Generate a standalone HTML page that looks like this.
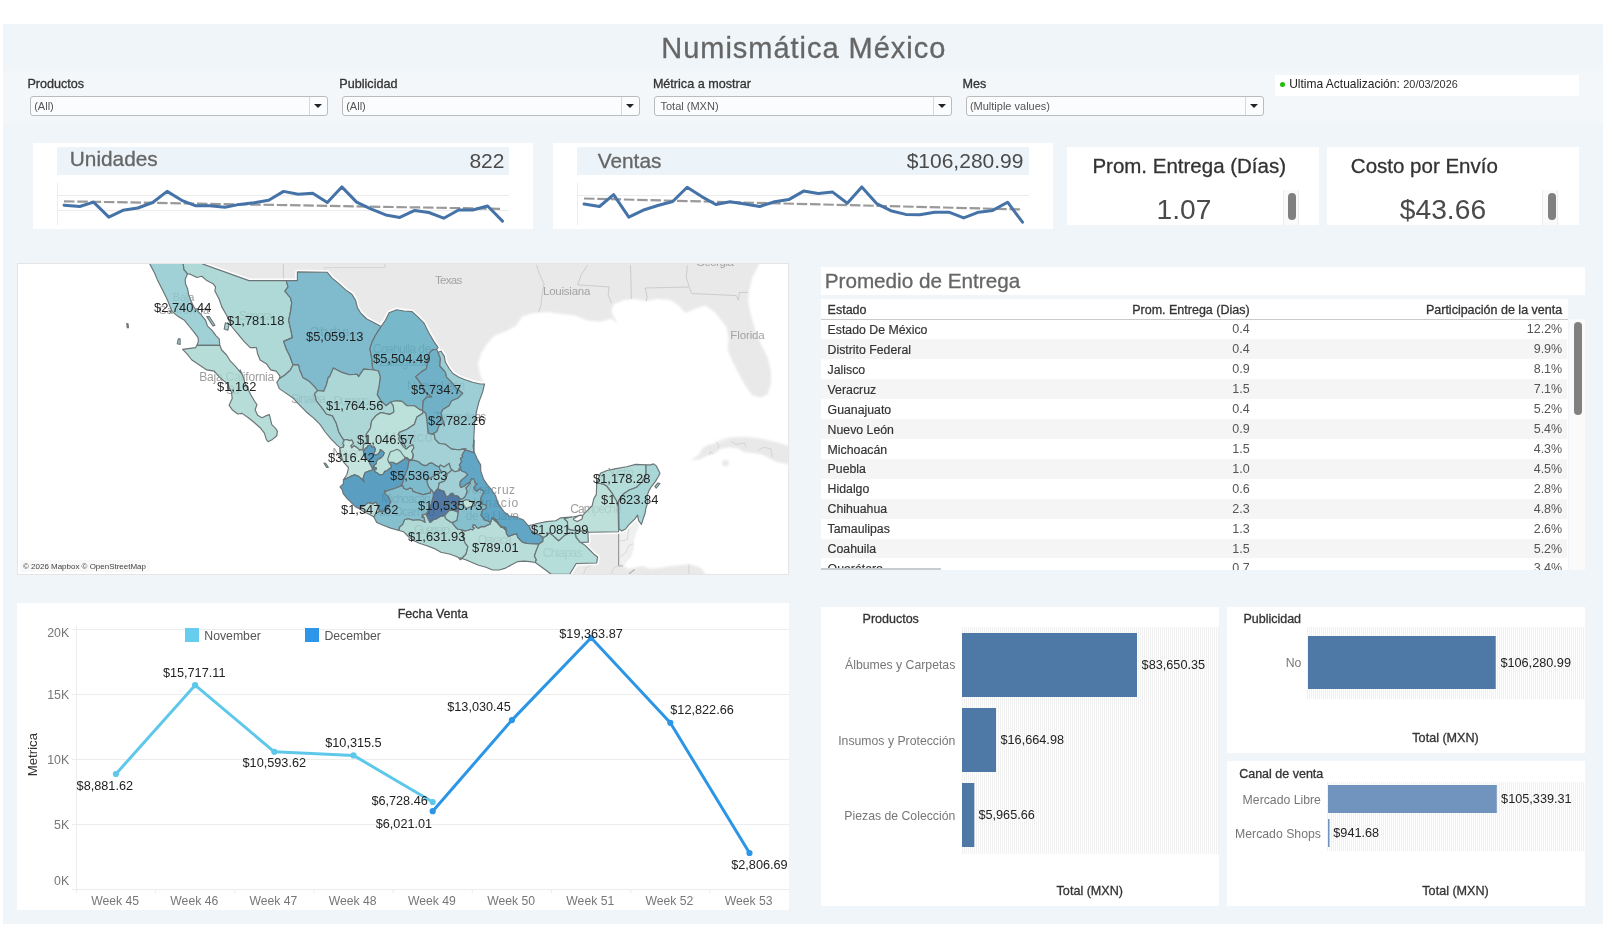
<!DOCTYPE html>
<html><head><meta charset="utf-8"><title>Numismática México</title>
<style>
html,body{margin:0;padding:0;background:#fff;}
body{width:1613px;height:929px;position:relative;overflow:hidden;font-family:"Liberation Sans",sans-serif;color:#333;}
.abs{position:absolute;}
.t{position:absolute;white-space:nowrap;line-height:1;}
.w{position:absolute;background:#fff;}
.med{-webkit-text-stroke:0.3px currentColor;}
.med2{-webkit-text-stroke:0.18px currentColor;}
.dd{position:absolute;height:18px;border:1px solid #bcbcbc;border-radius:3px;background:#fbfcfd;box-sizing:content-box;}
.dd .sep{position:absolute;right:17px;top:0;width:1px;height:18px;background:#d8d8d8;}
.dd .ar{position:absolute;right:5px;top:7px;width:0;height:0;border-left:4px solid transparent;border-right:4px solid transparent;border-top:4px solid #222;}
.stripe{position:absolute;background:repeating-linear-gradient(90deg,#f1f1f1 0,#f1f1f1 1px,#fefefe 1px,#fefefe 2px);}
svg{position:absolute;left:0;top:0;overflow:visible;}
</style></head><body><div id="root" style="position:absolute;left:0;top:0;width:1613px;height:929px;opacity:0.999">

<div class="abs" style="left:3px;top:24px;width:1600px;height:900px;background:#eff5f9"></div>
<div class="abs" style="left:3px;top:71px;width:1600px;height:52px;background:#f3f7fa"></div>
<div class="t med" style="left:661.30px;top:34.35px;font-size:29.00px;color:#666;letter-spacing:0.97px;">Numismática México</div>
<div class="t med" style="left:27.47px;top:78.33px;font-size:12.60px;color:#333;">Productos</div>
<div class="dd" style="left:30px;top:96px;width:296px"><span class="sep"></span><span class="ar"></span></div>
<div class="t" style="left:34.21px;top:101.09px;font-size:11.00px;color:#555;">(All)</div>
<div class="t med" style="left:339.33px;top:78.33px;font-size:12.60px;color:#333;">Publicidad</div>
<div class="dd" style="left:342px;top:96px;width:296px"><span class="sep"></span><span class="ar"></span></div>
<div class="t" style="left:346.21px;top:101.09px;font-size:11.00px;color:#555;">(All)</div>
<div class="t med" style="left:652.89px;top:78.33px;font-size:12.60px;color:#333;">Métrica a mostrar</div>
<div class="dd" style="left:654px;top:96px;width:296px"><span class="sep"></span><span class="ar"></span></div>
<div class="t" style="left:660.51px;top:101.09px;font-size:11.00px;color:#555;">Total (MXN)</div>
<div class="t med" style="left:962.49px;top:78.33px;font-size:12.60px;color:#333;">Mes</div>
<div class="dd" style="left:966px;top:96px;width:296px"><span class="sep"></span><span class="ar"></span></div>
<div class="t" style="left:969.91px;top:101.09px;font-size:11.00px;color:#555;">(Multiple values)</div>
<div class="w" style="left:1275px;top:75px;width:304px;height:21px"></div>
<div class="abs" style="left:1279.8px;top:81.5px;width:5.4px;height:5.4px;border-radius:3px;background:#24bd0c"></div>
<div class="t" style="left:1289.20px;top:78.25px;font-size:11.99px;color:#222;">Ultima Actualización:</div>
<div class="t" style="left:1403.30px;top:79.18px;font-size:10.89px;color:#333;">20/03/2026</div>
<div class="w" style="left:33px;top:143px;width:500px;height:86px"></div>
<div class="abs" style="left:57px;top:147px;width:452px;height:28px;background:#ecf4f9"></div>
<div class="t med" style="left:69.81px;top:149.39px;font-size:20.80px;color:#666;">Unidades</div>
<div class="t" style="left:469.42px;top:150.22px;font-size:21.00px;color:#4a4a4a;">822</div>
<div class="w" style="left:553px;top:143px;width:500px;height:86px"></div>
<div class="abs" style="left:577px;top:147px;width:452px;height:28px;background:#ecf4f9"></div>
<div class="t med" style="left:597.78px;top:151.19px;font-size:20.80px;color:#666;">Ventas</div>
<div class="t" style="left:906.67px;top:150.02px;font-size:21.00px;color:#4a4a4a;">$106,280.99</div>
<div class="w" style="left:1067px;top:147px;width:252px;height:78px"></div>
<div class="w" style="left:1327px;top:147px;width:252px;height:78px"></div>
<div class="t med" style="left:1092.39px;top:156.25px;font-size:20.50px;color:#333;">Prom. Entrega (Días)</div>
<div class="t med" style="left:1350.86px;top:156.25px;font-size:20.50px;color:#333;">Costo por Envío</div>
<div class="t" style="left:1156.48px;top:195.13px;font-size:28.20px;color:#4a4a4a;">1.07</div>
<div class="t" style="left:1399.85px;top:195.13px;font-size:28.20px;color:#4a4a4a;">$43.66</div>
<div class="abs" style="left:1282.5px;top:190px;width:16px;height:35px;background:#fafafa;border-left:1px solid #ececec;border-right:1px solid #ececec;box-sizing:border-box"></div>
<div class="abs" style="left:1287.7px;top:193px;width:8px;height:27px;border-radius:4px;background:#808080"></div>
<div class="abs" style="left:1542.3px;top:190px;width:16px;height:35px;background:#fafafa;border-left:1px solid #ececec;border-right:1px solid #ececec;box-sizing:border-box"></div>
<div class="abs" style="left:1547.5px;top:193px;width:8px;height:27px;border-radius:4px;background:#808080"></div>
<div class="w" id="map" style="left:17px;top:263px;width:772px;height:312px;border:1px solid #e5e5e5;box-sizing:border-box;overflow:hidden"><svg style="left:-18px;top:-264px" width="1613" height="929" viewBox="0 0 1613 929">
<defs><filter id="soft" x="-5%" y="-5%" width="110%" height="110%"><feGaussianBlur stdDeviation="1.1"/></filter>
<polygon id="sBC" points="149.8,260.8 149.8,263.9 154.7,273.2 157.2,279.4 160.9,286.8 165.3,295.5 167.1,299.2 172.1,311.6 178.3,316.6 184.5,320.3 189.4,326.5 194.4,332.7 198.1,337.6 198.4,341.4 196.9,345.3 219.8,345.3 219.2,338.9 216.1,335.8 212.4,330.8 207.4,325.9 205.6,320.3 200.6,314.1 194.4,307.9 191.3,301.7 188.6,294.5 187.6,288.7 185.5,283.7 185.1,279.4 187.6,273.8 183.9,269.4 183.2,263.9 183.2,260.8"/>
<polygon id="sBCS" points="196.9,345.3 195.6,347.6 182.6,349.4 187,353.8 191.9,360 199.4,364.9 206.8,369.9 214.2,371.1 219.2,376.9 227.2,383.6 231.5,392.3 232.2,398.5 229.1,405.3 232.2,409.7 237.7,414 242.1,413.4 248.3,417.7 254.5,422.7 260.7,428.3 264.4,433.2 266.3,439.4 268.1,441.7 272.5,439.4 276.8,435.7 277.4,431.4 275.6,428.3 271.8,424.6 270.6,419.6 269.4,414.6 265.6,415.9 261.9,417.7 257.6,415.3 255.1,409.7 257,404.7 254.5,401 250.8,394.8 248.3,389.8 245.2,383.6 243.3,377.4 240.2,370 241.5,373.6 235.3,366.2 230.4,361.2 226.6,355 221.7,350 219.8,345.3"/>
<polygon id="sSON" points="187.6,273.8 190.7,274.4 196.9,277.5 201.8,276.3 206.8,280.6 213,283.7 215.5,286.8 214.9,291.1 219.2,299.2 221.7,306.6 226.6,315.3 231.6,326.5 237.8,333.9 244,341.4 250.2,347.6 256.4,347.6 257.6,353.8 260.1,360 266.3,363.7 270.7,369.9 276.2,371.1 280,376.1 279.3,378.7 284.9,375 290.4,370 293,364.9 289.9,356.2 286.2,348.8 283.7,341.4 292.3,337.6 291.1,331.4 288.6,320.3 290.5,311.6 291.7,302.9 290.5,298 284.9,291.1 288,286.8 286.2,280.6 249,280.6 202.5,263.9 202.5,260.8 183.2,260.8 183.2,263.9 183.9,269.4 187.6,273.8"/>
<polygon id="sCHIH" points="287.4,280.6 297.4,280.6 297.4,271.9 327.1,272.2 332.1,278.1 338.3,283.1 345.7,289.9 351.9,294.2 355.6,300.4 357.5,307.9 360.6,312.8 366.8,319 374.2,322.8 381.1,326.5 375.5,335.2 371.8,342.6 369.9,348.8 371.8,358.7 372.4,366.2 372.9,369.8 363.6,369.1 358.6,376.6 356.9,374.2 349.4,374.8 342,372.4 333.3,368 329.6,376.9 328.3,377.4 326.4,384.9 323.9,391.1 317.7,390.5 314,386.1 309,381.2 302.8,377.4 299.7,370 298.5,364.9 293,364.9 289.9,356.2 286.2,348.8 283.7,341.4 292.3,337.6 291.1,331.4 288.6,320.3 290.5,311.6 291.7,302.9 290.5,298 284.9,291.1 288,286.8 286.2,280.6"/>
<polygon id="sCOAH" points="381.1,326.5 385.4,320.3 389.1,312.8 396.6,309.7 404,311 412.1,311.6 417.6,316.6 423.8,322.8 428.8,332.7 433.8,341.4 438.1,347.6 436.5,349.3 432.4,349.9 429.9,352.4 426.8,361.1 427.4,364.2 426.2,369.1 421.8,371.6 415.6,376.6 420.6,383.4 425.6,392.1 431.8,397 426.8,397 423.1,400.8 422.5,410.7 419.4,409.4 414.4,405.7 407,405.7 402,401.4 395.8,400.8 390.8,402 385.9,405.7 380.9,400.8 377.2,394.6 379.1,385.9 380.3,377.2 378.4,371 372.9,369.8 372.4,366.2 371.8,358.7 369.9,348.8 371.8,342.6 375.5,335.2 381.1,326.5"/>
<polygon id="sNL" points="436.5,349.3 438,352.2 440.4,358.6 439.8,366 445.4,372.2 446.6,377.2 451.6,382.2 456.6,388.4 462.8,393.3 457.8,398.3 451.6,400.8 449.1,405.7 442.9,409.4 441.1,413.2 442.9,420.6 444.2,422.5 439.2,425.6 436.7,431.8 431.8,434.2 428,433 427.4,425.6 426.8,419.4 425.6,413.2 422.5,410.7 423.1,400.8 426.8,397 431.8,397 425.6,392.1 420.6,383.4 415.6,376.6 421.8,371.6 426.2,369.1 427.4,364.2 426.8,361.1 429.9,352.4 432.4,349.9 436.5,349.3"/>
<polygon id="sTAM" points="438,352.2 441.1,351.2 444.2,356.1 445.4,362.3 449.1,368.5 452.8,373.5 459,377.2 465.2,379.7 472.7,382.2 480.1,384 484.5,384 482.6,392.1 478.9,402 476.4,411.9 474.5,424.3 473.9,436.7 473.3,446.6 473.9,452.8 469,451 462.8,449.1 459,449.7 451.6,449.1 445.4,444.2 439.2,443.5 434.9,439.2 434.2,434.2 431.8,434.2 436.7,431.8 439.2,425.6 444.2,422.5 442.9,420.6 441.1,413.2 442.9,409.4 449.1,405.7 451.6,400.8 457.8,398.3 462.8,393.3 456.6,388.4 451.6,382.2 446.6,377.2 445.4,372.2 439.8,366 440.4,358.6 438,352.2"/>
<polygon id="sSIN" points="279.3,378.7 276.8,382.4 279.3,388.6 285.5,392.9 292.9,397.9 299.1,404.7 306.6,412.2 314,418.4 320.2,424.6 325.2,432 331.4,439.4 337.6,445.6 340.7,448.1 343.1,446.9 344.4,440.7 342.5,438.2 338.8,432 336.3,423.3 332.6,415.9 326.4,414 321.4,407.2 316.5,401 314.6,393.6 317.7,390.5 314,386.1 309,381.2 302.8,377.4 299.7,370 298.5,364.9 293,364.9 290.4,370 284.9,375 279.3,378.7"/>
<polygon id="sDUR" points="372.9,369.8 378.4,371 380.3,377.2 379.1,385.9 377.2,394.6 380.9,400.8 385.9,405.7 390.8,402 393.3,405.7 393.9,411.9 389.6,414.4 380.9,412.5 376,415.6 371.6,420.8 370.4,428.3 366.1,434.5 367.3,441.9 363.6,444.4 363,449.5 359.6,450.1 357.4,447.9 354,445.6 351.8,447.9 350.7,445.6 353.5,443.4 351.8,440 349.5,440.6 346.8,439.5 344,440 344.4,440.7 342.5,438.2 338.8,432 336.3,423.3 332.6,415.9 326.4,414 321.4,407.2 316.5,401 314.6,393.6 317.7,390.5 323.9,391.1 326.4,384.9 328.3,377.4 329.6,376.9 333.3,368 342,372.4 349.4,374.8 356.9,374.2 358.6,376.6 363.6,369.1 372.9,369.8"/>
<polygon id="sZAC" points="390.8,402 395.8,400.8 402,401.4 407,405.7 414.4,405.7 419.4,409.4 422.5,410.7 422.8,413.2 416.9,416.9 414.4,424.3 407,429.3 399.5,432.4 398.1,434.5 400.9,438.2 405.6,446.6 399.4,435 398.8,439.5 401,443.4 403.8,446.8 406.1,449 409.4,446.2 412.8,444.5 413.9,447.9 411.7,451.2 413.3,454.6 412.2,459.1 410,460.2 407.2,457.9 404.9,457.4 404.4,459.1 401,461.3 396.6,464.1 393.2,462.4 389,462.4 391,465.2 391.5,467.5 388.7,469.1 387,470.8 384.8,471.4 383.1,474.2 379.8,475 377.5,473.1 375.3,471.9 374.2,469.4 376.4,469.1 376.4,468 373.6,466.9 374.2,465.2 376.4,463.5 376.4,461.3 378.1,459.1 380.9,457.9 383.1,455.7 384.2,452.9 382.6,451.2 380.3,449.5 379.8,451.8 378.1,454 375.3,455.1 373.6,454 374.7,451.8 375.3,449 374.2,446.8 371.9,447.3 370.8,445.1 368,445.6 366.9,447.9 365.2,448.4 363.5,451.8 363,449.5 363.6,444.4 367.3,441.9 366.1,434.5 370.4,428.3 371.6,420.8 376,415.6 380.9,412.5 389.6,414.4 393.9,411.9 393.3,405.7 390.8,402"/>
<polygon id="sSLP" points="422.8,413.2 422.5,410.7 425.6,413.2 426.8,419.4 427.4,425.6 428,433 431.8,434.2 434.2,434.2 434.9,439.2 439.2,443.5 445.4,444.2 451.6,449.1 459,449.7 465.8,448.8 462.1,455 462.7,456.7 460.4,458.4 461.6,461.7 459.3,465.1 461,467.3 458.8,469 461,469.5 458.8,470.7 454.8,471.8 452,470.1 450.4,467.9 449.2,463.4 444.2,467 440.3,465.1 439.2,467 435.8,465.6 431.9,463.1 429.1,463.4 427.4,465.1 424.6,465.6 421.8,464.5 418.5,461.7 414,460.3 409,460.6 410.1,460.6 412.9,457.8 413.4,455 412.2,459.1 413.3,454.6 411.7,451.2 413.9,447.9 412.8,444.5 409.4,446.2 406.1,449 403.8,446.8 401,443.4 398.8,439.5 399.4,435 405.6,446.6 400.9,438.2 398.1,434.5 399.5,432.4 407,429.3 414.4,424.3 416.9,416.9"/>
<polygon id="sNAY" points="339.8,447.9 343.4,447.3 344,445.1 342.6,443.4 344,440 346.8,439.5 349.5,440.6 351.8,440 353.5,443.4 350.7,445.6 351.8,447.9 354,445.6 357.4,447.9 359.6,450.1 363,449.5 363.5,451.8 364.1,455.1 366.3,458.5 369.1,461.3 369.7,463.5 371.9,466.9 373.1,469.7 369.7,470.8 365.2,472.5 364.1,475.3 363,478.6 364.1,482 361.9,479.2 358.5,476.4 354.6,474.7 350.7,476.4 346.2,478.6 343.4,479.8 346.8,474.7 347.9,470.8 348.4,467.5 346.2,465.2 343.4,461.9 341.7,457.4 340.6,452.9 339.8,447.9"/>
<polygon id="sJAL" points="343.4,479.8 346.2,478.6 350.7,476.4 354.6,474.7 358.5,476.4 361.9,479.2 364.1,482 363,478.6 364.1,475.3 365.2,472.5 369.7,470.8 373.1,469.7 371.9,466.9 374.2,469.4 375.3,471.9 377.5,473.1 379.8,475 383.1,474.2 384.8,471.4 387,470.8 388.7,469.1 391.5,467.5 391,465.2 389,462.4 393.2,462.4 396.6,464.1 401,461.3 404.4,459.1 404.9,457.4 407.2,457.9 410,460.2 405,457.8 409,460.6 407.8,467.9 405,475.1 402.2,484.1 400,486.3 401.8,485.7 394.4,488.5 388.8,490.3 384.2,492.2 385.1,490 385.1,493.7 388.8,497.4 390.7,502.1 388.8,505.8 385.1,511.4 379.5,511.4 377.7,505.8 375.8,502.1 373,503.9 368.4,502.6 365.6,504.9 359.1,508.6 355.3,506.7 350.7,502.1 347,498.4 343.2,493.7 342.3,490 340,486.8 343.4,483.7 343.4,479.8"/>
<polygon id="sJALN" points="363.5,451.8 365.2,448.4 366.9,447.9 368,445.6 370.8,445.1 371.9,447.3 374.2,446.8 375.3,449 374.7,451.8 373.6,454 375.3,455.1 378.1,454 379.8,451.8 380.3,449.5 382.6,451.2 384.2,452.9 383.1,455.7 380.9,457.9 378.1,459.1 376.4,461.3 376.4,463.5 374.2,465.2 373.6,466.9 376.4,468 376.4,469.1 374.2,469.4 372.5,468.6 371.9,466.9 369.7,463.5 369.1,461.3 366.3,458.5 364.1,455.1"/>
<polygon id="sAGS" points="390.4,451.8 393.8,450.7 397.1,449.3 400.5,451.2 402.2,454 404.9,457.4 404.4,459.1 401,461.3 396.6,464.1 393.2,462.4 389,462.4 387.6,459.6 388.7,456.3"/>
<polygon id="sCOL" points="359.1,508.6 365.6,504.9 368.4,502.6 373,503.9 375.8,502.1 377.7,505.8 379.5,511.4 375.8,513.2 373.9,517 369.3,514.2 364.6,512.3"/>
<polygon id="sGTO" points="409,460.6 414,460.3 418.5,461.7 421.8,464.5 424.6,465.6 427.4,465.1 429.1,463.4 431.9,463.1 435.8,465.6 439.2,467 439.7,469 441.4,471.2 439.2,473.5 433.6,476.3 429.1,478.5 426.9,480.7 427.4,483 428.5,486.3 430.2,488.6 431.1,489.7 430.2,493.1 426.9,493.6 423.5,494.7 419.6,493.6 416.2,492.5 412.9,491.4 412.3,489.1 410.1,488 406.7,489.7 403.4,488 402.2,484.1 405,475.1 407.8,467.9"/>
<polygon id="sQRO" points="439.2,467 440.3,465.1 444.2,467 449.2,463.4 450.4,467.9 452,470.1 449.2,472.3 447.6,473.5 446.4,477.4 444.8,480.7 442.5,481.9 439.2,483 438.6,486.3 438.1,488.6 436.4,489.7 435.3,491.9 433.6,493.6 431.9,490.3 431.1,489.7 430.2,488.6 428.5,486.3 427.4,483 426.9,480.7 429.1,478.5 433.6,476.3 439.2,473.5 441.4,471.2 439.7,469"/>
<polygon id="sHID" points="452,470.1 454.8,471.8 458.8,470.7 461,469.5 462.1,471.2 465.5,472.3 467.7,474.6 464.9,477.4 462.7,479.1 460.4,481.3 459.9,485.2 461,487.5 463.8,486.3 466.6,484.1 469.4,482.4 470.5,483 468.8,485.2 466,488 467.2,491.4 466,494.7 464.4,497.5 461.6,499.2 459.3,498.1 458.2,496.4 453.7,495.3 452.6,493.1 450.4,494.2 448.1,496.4 445.9,496.4 444.8,493.6 443.1,490.8 439.2,489.7 438.1,488.6 438.6,486.3 439.2,483 442.5,481.9 444.8,480.7 446.4,477.4 447.6,473.5 449.2,472.3"/>
<polygon id="sMICH" points="379.5,511.4 375.8,513.2 373.9,517 376.7,522.5 383.2,525.3 390.7,528.1 399,530.5 399.5,527.2 402.8,524.4 404.6,519.8 408.3,518.8 413,520.2 418.6,519.8 422.3,520.7 425.1,522.5 424.2,517.9 422.3,515.1 422.2,517.5 422.8,514.7 426.2,514.1 428.4,510.2 431.2,504.6 432.3,500.1 433.4,496.2 433.4,493.4 433.6,493.6 431.9,490.3 431.1,489.7 430.2,493.1 426.9,493.6 423.5,494.7 419.6,493.6 416.2,492.5 412.9,491.4 412.3,489.1 410.1,488 406.7,489.7 403.4,488 402.2,484.1 400,486.3 401.8,485.7 394.4,488.5 388.8,490.3 384.2,492.2 385.1,493.7 388.8,497.4 390.7,502.1 388.8,505.8 385.1,511.4"/>
<polygon id="sGRO" points="399,530.5 403.7,531.8 408.3,536.5 413,540.2 418.6,543 426.9,545.8 434.4,548.6 440.9,552.3 450.2,554.2 457.6,557 460.4,559.7 463.2,557 466,554.2 467.9,546.7 465.1,543 463.1,536.8 462.5,531.4 461.4,529.8 458.1,529.2 455.8,527.5 453.6,524.7 452.5,523.1 451.3,522.5 448,520.3 445.7,518.6 444.6,515.8 440.7,516.3 436.8,518.6 433.4,519.7 430.1,522.5 427.8,518 426.2,514.1 422.8,514.7 422.2,517.5 422.3,515.1 424.2,517.9 425.1,522.5 422.3,520.7 418.6,519.8 413,520.2 408.3,518.8 404.6,519.8 402.8,524.4 399.5,527.2 399,530.5"/>
<polygon id="sOAX" points="460.4,559.7 463.2,557 466,554.2 467.9,546.7 465.1,543 463.1,536.8 462.5,531.4 461.4,529.8 464.8,530.9 468.1,530.3 470.4,529.2 472.6,529.8 474.3,528.1 472.6,527 473.2,524.7 475.4,525.3 476.5,527.5 478.8,528.1 481.6,526.4 484.4,526.7 487.2,525.3 489.9,524.2 490.5,522.5 491.6,519.7 492.2,517.5 494.4,518.6 496.7,521.4 498.3,524.2 501.1,526.4 505.1,527.5 506.7,530.9 491.6,517.9 495.3,518.8 498.1,522.5 500.9,527.2 505.6,527.2 506.5,533.7 508.4,536.5 513,534.6 516.7,533.7 517.7,537.4 522.3,542.1 527,543.5 539,543.9 536.3,550.4 534.4,556 536.3,559.7 535.3,562.5 529.7,561.6 524.2,561.1 517.7,561.6 512.1,564.4 505.6,568.1 499.1,570 492.5,570 486,567.2 478.6,565.3 472.1,562.5 465.6,559.7 460,557.9"/>
<polygon id="sPUE" points="466.6,484.1 469.4,482.4 470.5,481.3 471.1,479.1 473.3,478.5 474.4,480.2 475,483 477.2,484.1 475,485.8 473.9,487.5 475,489.7 476.7,491.4 479.5,489.1 483.9,490.8 482.8,494.2 481.1,497.5 480.6,499.8 481,500.7 482.1,504 486,505.1 486.6,507.4 484.9,509.1 482.7,509.6 481.6,513 481,515.2 483.2,518 484.9,520.3 487.7,520.8 490.5,522.5 489.9,524.2 487.2,525.3 484.4,526.7 481.6,526.4 478.8,528.1 476.5,527.5 475.4,525.3 473.2,524.7 472.6,527 474.3,528.1 472.6,529.8 470.4,529.2 468.1,530.3 464.8,530.9 461.4,529.8 458.1,529.2 455.8,527.5 453.6,524.7 452.5,523.1 453.6,521.9 456.9,520.3 457.5,516.3 458.1,512.4 458.3,507.4 458.6,501.8 459.7,499.5 461.6,499.2 464.4,497.5 466,494.7 467.2,491.4 466,488 468.8,485.2 470.5,483 469.4,482.4"/>
<polygon id="sVER" points="459,449.7 462.8,449.1 469,451 473.9,452.8 474.2,440 473.2,445.6 474.2,452.1 477,458.6 480.7,465.1 480.7,470.7 483.5,479.1 487.2,484.6 491.8,490.2 495.6,495.8 498.3,504.2 503,510.7 499.1,504.9 503.7,511.4 509.3,516 515.8,517 523.2,519.8 527.9,525.3 528.8,525.8 530.7,530 534.4,532.8 539,534.6 543.2,537.4 542.8,541.6 539,543.9 527,543.5 522.3,542.1 517.7,537.4 516.7,533.7 513,534.6 508.4,536.5 506.5,533.7 505.6,527.2 500.9,527.2 498.1,522.5 495.3,518.8 491.6,517.9 506.7,530.9 505.1,527.5 501.1,526.4 498.3,524.2 496.7,521.4 494.4,518.6 492.2,517.5 491.6,519.7 490.5,522.5 487.7,520.8 484.9,520.3 483.2,518 481,515.2 481.6,513 482.7,509.6 484.9,509.1 486.6,507.4 486,505.1 482.1,504 481,500.7 480.6,499.8 481.1,497.5 482.8,494.2 483.9,490.8 479.5,489.1 476.7,491.4 475,489.7 473.9,487.5 475,485.8 477.2,484.1 475,483 474.4,480.2 473.3,478.5 471.1,479.1 470.5,481.3 469.4,482.4 466.6,484.1 463.8,486.3 461,487.5 459.9,485.2 460.4,481.3 462.7,479.1 464.9,477.4 467.7,474.6 465.5,472.3 462.1,471.2 461,469.5 458.8,469 461,467.3 459.3,465.1 461.6,461.7 460.4,458.4 462.7,456.7 462.1,455 465.8,448.8"/>
<polygon id="sMEX" points="433.4,493.4 436.2,490.6 438.5,488.9 441.3,490.6 444.1,491.2 445.2,494.5 446.9,497.3 449.1,496.2 450.8,493.4 453.6,494 454.1,496.2 456.9,495.6 459.2,497.3 459.7,499.5 458.6,501.8 458.3,507.4 458.1,511.9 455.8,511.3 452.5,510.2 449.1,510.7 446.9,513 444.6,515.8 440.7,516.3 436.8,518.6 433.4,519.7 430.1,522.5 427.8,518 426.2,514.1 428.4,510.2 431.2,504.6 432.3,500.1 433.4,496.2"/>
<polygon id="sDF" points="449.4,503.7 453.3,503.5 455.8,506.3 455,509.6 451.3,510.3 449.1,508.5"/>
<polygon id="sMOR" points="444.6,515.8 446.9,513 449.1,510.7 452.5,510.2 455.8,511.3 458.1,512.4 457.5,516.3 456.9,520.3 453.6,521.9 451.3,522.5 448,520.3 445.7,518.6"/>
<polygon id="sTLAX" points="462.5,501.2 465.9,499.8 469.2,500.1 473.7,503.5 475.4,505.1 473.2,506 468.7,507.4 466.4,508.5 464.2,506.3"/>
<polygon id="sCHIS" points="539,543.9 542.8,541.6 543.2,537.4 545.6,536.5 549.3,532.8 553,535.6 558.6,540.7 564.2,535.6 569.7,532.8 575.3,533.7 576.2,537.4 580,542.1 584.6,544.9 589.3,549.5 593.9,554.2 597.6,557 596.7,563 576.2,563.5 569.7,574.2 551.1,574.2 549.3,572.8 541.8,567.2 535.3,562.5 536.3,559.7 534.4,556 536.3,550.4 539,543.9"/>
<polygon id="sTAB" points="528.8,525.8 537.2,523.5 546.5,521.6 555.8,520.7 560.4,517.9 566.9,517.4 571.6,517 564.2,518.8 567.4,521.6 567.9,529.1 576.2,530.9 587.9,531.4 588.3,542.1 580.4,542.5 576.2,537.4 575.3,533.7 569.7,532.8 564.2,535.6 558.6,540.7 553,535.6 549.3,532.8 545.6,536.5 543.2,537.4 543.2,537.4 539,534.6 534.4,532.8 530.7,530"/>
<polygon id="sCAMP" points="571.6,517 572.5,517 582.8,515.1 586.5,511.4 592.1,505.8 593.9,498.4 596.3,494.6 596.7,483.5 600.4,483.5 604.2,484.4 607,486.3 612.5,493.7 618.1,503.5 618.6,531.8 588.4,532.3 587.9,531.4 576.2,530.9 567.9,529.1 567.4,521.6 564.2,518.8"/>
<polygon id="sYUC" points="596.7,483.5 600.4,473.2 607,470.5 616.3,468.6 626.5,466.7 635.8,464.4 646,464.9 646,475.1 642.3,481.6 636.7,487.2 629.3,490 623.7,493.7 619,500.2 618.1,503.5 612.5,493.7 607,486.3 604.2,484.4 600.4,483.5"/>
<polygon id="sQROO" points="646,464.9 650.7,464.9 653.5,463.9 656.2,465.8 658.1,469.5 660,473.2 658.1,477 655.3,481.6 651.6,486.3 648.8,490.9 646.9,496.5 647.9,502.1 646,507.7 645.1,513.2 643.2,518.8 641.4,524.4 638.6,520.7 637.6,515.1 634.9,518.8 632.1,521.6 628.3,525.3 625.6,529 621.8,530.9 619,529 618.6,503.9 618.1,503.5 619,500.2 623.7,493.7 629.3,490 636.7,487.2 642.3,481.6 646,475.1"/>
</defs>
<g fill="#e9e9e9" filter="url(#soft)">
<polygon points="202.5,260.8 202.5,263.9 249,280.6 286.2,280.6 297.4,280.6 297.4,271.9 327.1,272.2 332.1,278.1 338.3,283.1 345.7,289.9 351.9,294.2 355.6,300.4 357.5,307.9 360.6,312.8 366.8,319 374.2,322.8 381.1,326.5 385.4,320.3 389.1,312.8 396.6,309.7 404,311 412.1,311.6 417.6,316.6 423.8,322.8 428.8,332.7 433.8,341.4 438.1,347.6 438,352.2 441.1,351.2 444.2,356.1 445.4,362.3 449.1,368.5 452.8,373.5 459,377.2 465.2,379.7 472.7,382.2 480.1,384 484.5,384 480.1,374.8 478,364 481.2,353.1 486.6,344.4 494.2,335.8 505.1,331.4 515.9,326 522.4,316.2 533.3,313 548.5,311.9 561.5,314.1 574.5,315.2 587.5,320.6 600.6,321.7 611.4,318.4 617.9,323.8 611.4,311.9 613.6,304.3 624.4,300 635.3,298.9 646.1,301.1 657,298.9 670,300 678.7,305.4 685.2,313 696,308.6 704.7,305.4 713.4,310.8 719.9,318.4 726.4,327.1 728.6,337.9 727.5,348.8 730.7,357.5 737.2,370.5 743.8,383.5 752.4,395.4 761.1,397.6 767.6,394.3 770.9,383.5 770.9,370.5 767.6,357.5 761.1,344.4 755.7,331.4 751.3,316.2 748.1,301.1 749.2,290.2 752.4,277.2 758.9,265.3 758.9,259.8"/>
<polygon points="690.3,460.5 699.1,454.6 702,448.8 707.9,445.1 718.1,442.2 731.3,440 713.4,442.1 728.6,437.7 743.8,436.7 761.1,438.8 776.3,442.1 795.8,448.6 794.3,464.9 788.4,464.2 784,463.4 776.7,462 770.8,459 762,454.6 753.3,453.2 743,451.7 738.6,448.8 729.8,447.3 721.1,448.8 715.2,453.2 706.4,456.1 700.6,459"/>
<polygon points="587.9,531.4 588.4,532.3 618.6,531.8 619,529 621.8,530.9 625.6,529 628.3,525.3 632.1,521.6 634.9,518.8 639.8,523.5 636.1,530.8 633.2,539.6 633.2,548.3 630.3,557.1 625.9,561.5 623,565.9 628.8,568.8 636.1,567.4 642,565.9 650.8,568.8 662.5,567.4 671.3,565.9 680.1,565.2 688.8,564.5 696.2,565.9 702,568.8 706.4,576.2 568.8,576.2 574.6,564.2 596.6,563.7 598.1,557.1 596.7,563 597.6,557 593.9,554.2 589.3,549.5 584.6,544.9 580,542.1 580.4,542.5 588.3,542.1"/>
<ellipse cx="725.4" cy="463.1" rx="3.6" ry="3.2"/>
</g>
<polygon fill="#f0f0f0" filter="url(#soft)" points="618.9,533.7 623,530.8 628.8,526.4 634.7,522 637.6,516.1 639.8,523.5 636.1,530.8 633.2,539.6 633.2,548.3 630.3,557.1 625.9,561.5 623,565.6 618.9,565.6"/>
<polyline fill="none" stroke="#c4c4c4" stroke-width="0.8" points="283.4,260.8 283.4,280.6"/>
<polyline fill="none" stroke="#cfcfcf" stroke-width="0.8" points="324.6,272.2 324.6,267.6 384.8,267.6 384.8,263.9"/>
<polyline fill="none" stroke="#c4c4c4" stroke-width="0.8" points="536.6,265.3 539.8,275 544.1,283.7 542,294.5 540.9,305.4 538.7,311.9"/>
<polyline fill="none" stroke="#c4c4c4" stroke-width="0.8" points="587.5,265.3 581,275 577.8,284.8 609.2,287 608.1,294.5 611.4,303.2"/>
<polyline fill="none" stroke="#c4c4c4" stroke-width="0.8" points="630.5,265.3 631.4,298.9"/>
<polyline fill="none" stroke="#c4c4c4" stroke-width="0.8" points="688.4,287 645,288 647.2,296.7 646.1,301.1"/>
<polyline fill="none" stroke="#c4c4c4" stroke-width="0.8" points="687.3,265.3 686.3,277.2 689.5,288 691.7,293.5 736.2,295.6 738.3,300 739.4,292.4 748.1,292.4"/>
<polyline fill="none" stroke="#9a9a9a" stroke-width="1.2" points="618.6,532.2 618.6,565.9"/>
<polyline fill="none" stroke="#8a8a8a" stroke-width="1.2" points="587.8,532.2 618.6,532.2"/>
<polyline fill="none" stroke="#8a8a8a" stroke-width="1.2" points="574.6,564.2 596.6,563.7"/>
<polyline fill="none" stroke="#aaa" stroke-width="1" points="618.6,565.9 623,565.9"/>
<polyline fill="none" stroke="#d0d0d0" stroke-width="0.8" points="620,541 627.3,539.6 628.8,527.8"/>
<polyline fill="none" stroke="#d0d0d0" stroke-width="0.8" points="620,557.1 625.9,552.7 628.8,545.4 633.2,544"/>
<polyline fill="none" stroke="#d0d0d0" stroke-width="0.8" points="583.4,574 586.4,567.4 592.2,564.5"/>
<polyline fill="none" stroke="#d0d0d0" stroke-width="0.8" points="611.2,574 614.2,567.4 618.6,565.9"/>
<polyline fill="none" stroke="#b5b5b5" stroke-width="1.2" points="628.8,574 634.7,569.6"/>
<polyline fill="none" stroke="#d0d0d0" stroke-width="0.8" points="688.8,564.5 688.8,574"/>
<polyline fill="none" stroke="#cfcfcf" stroke-width="0.8" points="709.3,454.6 710.8,451.7 713,453.9"/>
<polyline fill="none" stroke="#cfcfcf" stroke-width="0.8" points="716.7,442.2 718.9,445.9 717.4,448.8"/>
<polyline fill="none" stroke="#cfcfcf" stroke-width="0.8" points="731.3,441.5 735.7,444.4 744.5,442.9 745.9,447.3"/>
<polyline fill="none" stroke="#cfcfcf" stroke-width="0.8" points="757.7,450.2 763.5,447.3 770.8,448.8 772.3,457.6"/>
<g fill="none" stroke="#fff" stroke-width="4.4" stroke-linejoin="round" opacity="0.9">
<use href="#sBC"/>
<use href="#sBCS"/>
<use href="#sSON"/>
<use href="#sCHIH"/>
<use href="#sCOAH"/>
<use href="#sNL"/>
<use href="#sTAM"/>
<use href="#sSIN"/>
<use href="#sDUR"/>
<use href="#sZAC"/>
<use href="#sSLP"/>
<use href="#sNAY"/>
<use href="#sJAL"/>
<use href="#sJALN"/>
<use href="#sAGS"/>
<use href="#sCOL"/>
<use href="#sGTO"/>
<use href="#sQRO"/>
<use href="#sHID"/>
<use href="#sMICH"/>
<use href="#sGRO"/>
<use href="#sOAX"/>
<use href="#sPUE"/>
<use href="#sVER"/>
<use href="#sMEX"/>
<use href="#sDF"/>
<use href="#sMOR"/>
<use href="#sTLAX"/>
<use href="#sCHIS"/>
<use href="#sTAB"/>
<use href="#sCAMP"/>
<use href="#sYUC"/>
<use href="#sQROO"/>
</g>
<g fill="#e9e9e9">
<use href="#sBC"/>
<use href="#sBCS"/>
<use href="#sSON"/>
<use href="#sCHIH"/>
<use href="#sCOAH"/>
<use href="#sNL"/>
<use href="#sTAM"/>
<use href="#sSIN"/>
<use href="#sDUR"/>
<use href="#sZAC"/>
<use href="#sSLP"/>
<use href="#sNAY"/>
<use href="#sJAL"/>
<use href="#sJALN"/>
<use href="#sAGS"/>
<use href="#sCOL"/>
<use href="#sGTO"/>
<use href="#sQRO"/>
<use href="#sHID"/>
<use href="#sMICH"/>
<use href="#sGRO"/>
<use href="#sOAX"/>
<use href="#sPUE"/>
<use href="#sVER"/>
<use href="#sMEX"/>
<use href="#sDF"/>
<use href="#sMOR"/>
<use href="#sTLAX"/>
<use href="#sCHIS"/>
<use href="#sTAB"/>
<use href="#sCAMP"/>
<use href="#sYUC"/>
<use href="#sQROO"/>
</g>
</svg>
<div class="abs" style="left:-18px;top:-264px;width:1613px;height:929px">
<div class="t" style="left:435.00px;top:274.77px;font-size:11.5px;color:#a3a3a3;opacity:1;letter-spacing:-0.679px">Texas</div>
<div class="t" style="left:543.00px;top:285.97px;font-size:11.5px;color:#a3a3a3;opacity:1;letter-spacing:-0.235px">Louisiana</div>
<div class="t" style="left:730.30px;top:329.87px;font-size:11.5px;color:#a3a3a3;opacity:1;letter-spacing:-0.115px">Florida</div>
<div class="t" style="left:696.00px;top:256.77px;font-size:11.5px;color:#a3a3a3;opacity:1;letter-spacing:-0.490px">Georgia</div>
<div class="t" style="left:172.70px;top:292.29px;font-size:11px;color:#9e9e9e;opacity:1;letter-spacing:-0.118px">Baja</div>
<div class="t" style="left:158.40px;top:305.39px;font-size:11px;color:#9e9e9e;opacity:1;letter-spacing:0.486px">California</div>
<div class="t" style="left:199.30px;top:371.04px;font-size:12px;color:#9e9e9e;opacity:1;letter-spacing:-0.223px">Baja California</div>
<div class="t" style="left:570.20px;top:502.84px;font-size:12px;color:#9e9e9e;opacity:1;letter-spacing:-0.917px">Campeche</div>
<div class="t" style="left:542.80px;top:546.64px;font-size:12px;color:#9e9e9e;opacity:1;letter-spacing:-0.757px">Chiapas</div>
<div class="t" style="left:464.00px;top:483.54px;font-size:12px;color:#9e9e9e;opacity:1;letter-spacing:0.537px">Veracruz</div>
<div class="t" style="left:473.20px;top:496.64px;font-size:12px;color:#9e9e9e;opacity:1;letter-spacing:1.067px">Ignacio</div>
<div class="t" style="left:465.80px;top:509.64px;font-size:12px;color:#9e9e9e;opacity:1;letter-spacing:-0.502px">de la Llave</div>
<div class="t" style="left:372.90px;top:343.44px;font-size:12px;color:#9e9e9e;opacity:1;letter-spacing:-0.588px">Coahuila de</div>
<div class="t" style="left:291.00px;top:392.84px;font-size:12px;color:#9e9e9e;opacity:1;letter-spacing:-0.847px">Sinaloa</div>
<div class="t" style="left:384.20px;top:429.53px;font-size:14.5px;color:#a8a8a8;opacity:1;letter-spacing:0.467px">Mexico</div>
<div class="t" style="left:381.00px;top:493.04px;font-size:12px;color:#9e9e9e;opacity:1;letter-spacing:-1.002px">Michoacán</div>
<div class="t" style="left:379.00px;top:506.04px;font-size:12px;color:#9e9e9e;opacity:1;letter-spacing:-0.755px">de Ocampo</div>
<div class="t" style="left:239.00px;top:310.34px;font-size:12px;color:#9e9e9e;opacity:1;letter-spacing:-1.052px">Sonora</div>
<div class="t" style="left:309.80px;top:326.14px;font-size:12px;color:#9e9e9e;opacity:1;letter-spacing:-2.310px">Chihuahua</div>
<div class="t" style="left:379.20px;top:356.24px;font-size:12px;color:#9e9e9e;opacity:1;letter-spacing:-0.523px">Zaragoza</div>
<div class="t" style="left:333.40px;top:395.34px;font-size:12px;color:#9e9e9e;opacity:1;letter-spacing:-1.670px">Durango</div>
<div class="t" style="left:226.00px;top:384.04px;font-size:12px;color:#9e9e9e;opacity:1;letter-spacing:-1.830px">Sur</div>
<div class="t" style="left:407.00px;top:379.64px;font-size:12px;color:#9e9e9e;opacity:1;letter-spacing:-0.727px">Nuevo León</div>
<div class="t" style="left:434.20px;top:410.64px;font-size:12px;color:#9e9e9e;opacity:1;letter-spacing:-0.958px">Tamaulipas</div>
<div class="t" style="left:413.90px;top:523.74px;font-size:12px;color:#9e9e9e;opacity:1;letter-spacing:-1.671px">Guerrero</div>
<div class="t" style="left:477.70px;top:534.44px;font-size:12px;color:#9e9e9e;opacity:1;letter-spacing:-1.420px">Oaxaca</div>
<div class="t" style="left:607.90px;top:467.04px;font-size:12px;color:#9e9e9e;opacity:1;letter-spacing:-2.897px">Yucatán</div>
<div class="t" style="left:332.60px;top:446.84px;font-size:12px;color:#9e9e9e;opacity:1;letter-spacing:-1.173px">Nayarit</div>
</div>
<svg style="left:-18px;top:-264px" width="1613" height="929" viewBox="0 0 1613 929">
<g stroke="#6b7476" stroke-width="1.15" stroke-linejoin="round">
<use href="#sBC" fill="#8ccad1" fill-opacity="0.8"/>
<use href="#sBCS" fill="#aadad5" fill-opacity="0.8"/>
<use href="#sSON" fill="#9fd4d1" fill-opacity="0.8"/>
<use href="#sCHIH" fill="#64aec6" fill-opacity="0.8"/>
<use href="#sCOAH" fill="#5aacc2" fill-opacity="0.8"/>
<use href="#sNL" fill="#52a2be" fill-opacity="0.8"/>
<use href="#sTAM" fill="#8ac7d0" fill-opacity="0.8"/>
<use href="#sSIN" fill="#93ccd0" fill-opacity="0.8"/>
<use href="#sDUR" fill="#9ed2d1" fill-opacity="0.8"/>
<use href="#sZAC" fill="#b0ded6" fill-opacity="0.8"/>
<use href="#sSLP" fill="#92cbd0" fill-opacity="0.8"/>
<use href="#sNAY" fill="#bae2d9" fill-opacity="0.8"/>
<use href="#sJAL" fill="#368cb6" fill-opacity="0.8"/>
<use href="#sJALN" fill="#368cb6" fill-opacity="0.8"/>
<use href="#sAGS" fill="#bae2d9" fill-opacity="0.8"/>
<use href="#sCOL" fill="#acdad5" fill-opacity="0.8"/>
<use href="#sGTO" fill="#61aec4" fill-opacity="0.8"/>
<use href="#sQRO" fill="#86c6ce" fill-opacity="0.8"/>
<use href="#sHID" fill="#8ec8cf" fill-opacity="0.8"/>
<use href="#sMICH" fill="#6db4c7" fill-opacity="0.8"/>
<use href="#sGRO" fill="#a2d5d1" fill-opacity="0.8"/>
<use href="#sOAX" fill="#acdad5" fill-opacity="0.8"/>
<use href="#sPUE" fill="#6db4c7" fill-opacity="0.8"/>
<use href="#sVER" fill="#3e96bb" fill-opacity="0.8"/>
<use href="#sMEX" fill="#2a5c95" fill-opacity="0.8"/>
<use href="#sDF" fill="#4f8fba"/>
<use href="#sMOR" fill="#9ad0d0" fill-opacity="0.8"/>
<use href="#sTLAX" fill="#c0e2db"/>
<use href="#sCHIS" fill="#a8d9d4" fill-opacity="0.8"/>
<use href="#sTAB" fill="#a8d9d4" fill-opacity="0.8"/>
<use href="#sCAMP" fill="#b1ded6" fill-opacity="0.8"/>
<use href="#sYUC" fill="#a6d8d4" fill-opacity="0.8"/>
<use href="#sQROO" fill="#99d1d1" fill-opacity="0.8"/>
<polygon fill="#fff" points="573.5,518.8 580,515.1 582.8,516 581.8,519.3 577.2,521.6 573.5,519.7"/>
<polygon fill="#a9d6d6" points="654.9,486.3 658.1,483 660,483.5 656.2,488.1"/>
<polygon fill="#a6d3d5" points="225.4,322.8 229.1,324 227.9,330.2 224.2,329"/>
<polygon fill="#a6d3d5" points="206.8,316.6 209.3,316.6 214.9,325.2 213,325.9"/>
<polygon fill="#a6d3d5" points="178.3,338.9 180.1,338.9 180.1,344.5 177.3,343.8"/>
<polygon fill="#a6d3d5" points="126.8,323.4 128.1,324 128.4,327.7 127.2,327.7"/>
<polygon fill="#a6d3d5" points="323.9,463 325.8,463.6 328.3,467.3 326.4,467.3"/>
</g>
</svg>
<div class="abs" style="left:-18px;top:-264px;width:1613px;height:929px">
<div class="t" style="left:154px;top:301.88px;font-size:12.9px;color:#1f1f1f">$2,740.44</div>
<div class="t" style="left:227px;top:314.88px;font-size:12.9px;color:#1f1f1f">$1,781.18</div>
<div class="t" style="left:306px;top:330.88px;font-size:12.9px;color:#1f1f1f">$5,059.13</div>
<div class="t" style="left:373px;top:352.88px;font-size:12.9px;color:#1f1f1f">$5,504.49</div>
<div class="t" style="left:411px;top:383.88px;font-size:12.9px;color:#1f1f1f">$5,734.7</div>
<div class="t" style="left:217px;top:380.88px;font-size:12.9px;color:#1f1f1f">$1,162</div>
<div class="t" style="left:326px;top:399.88px;font-size:12.9px;color:#1f1f1f">$1,764.56</div>
<div class="t" style="left:428px;top:414.88px;font-size:12.9px;color:#1f1f1f">$2,782.26</div>
<div class="t" style="left:357px;top:433.88px;font-size:12.9px;color:#1f1f1f">$1,046.57</div>
<div class="t" style="left:328px;top:451.88px;font-size:12.9px;color:#1f1f1f">$316.42</div>
<div class="t" style="left:390px;top:469.88px;font-size:12.9px;color:#1f1f1f">$5,536.53</div>
<div class="t" style="left:593px;top:472.88px;font-size:12.9px;color:#1f1f1f">$1,178.28</div>
<div class="t" style="left:601px;top:493.88px;font-size:12.9px;color:#1f1f1f">$1,623.84</div>
<div class="t" style="left:418px;top:499.88px;font-size:12.9px;color:#1f1f1f">$10,535.73</div>
<div class="t" style="left:341px;top:503.88px;font-size:12.9px;color:#1f1f1f">$1,547.62</div>
<div class="t" style="left:531px;top:523.88px;font-size:12.9px;color:#1f1f1f">$1,081.99</div>
<div class="t" style="left:408px;top:530.88px;font-size:12.9px;color:#1f1f1f">$1,631.93</div>
<div class="t" style="left:472px;top:541.88px;font-size:12.9px;color:#1f1f1f">$789.01</div>
<div class="abs" style="left:20px;top:560px;width:130px;height:12px;background:#f8f8f8"></div>
<div class="t" style="left:23.00px;top:562.55px;font-size:7.97px;color:#444;">© 2026 Mapbox © OpenStreetMap</div>
</div>
</div>
<div class="w" style="left:821px;top:267px;width:764px;height:28px"></div>
<div class="t med" style="left:824.69px;top:271.28px;font-size:20.70px;color:#666;">Promedio de Entrega</div>
<div class="w" style="left:821px;top:299px;width:747px;height:271px"></div>
<div class="abs" style="left:821px;top:299px;width:747px;height:271px;overflow:hidden">
<div class="abs" style="left:0;top:40.32px;width:746px;height:19.92px;background:#f5f5f5"></div>
<div class="abs" style="left:0;top:80.16px;width:746px;height:19.92px;background:#f5f5f5"></div>
<div class="abs" style="left:0;top:120.00px;width:746px;height:19.92px;background:#f5f5f5"></div>
<div class="abs" style="left:0;top:159.84px;width:746px;height:19.92px;background:#f5f5f5"></div>
<div class="abs" style="left:0;top:199.68px;width:746px;height:19.92px;background:#f5f5f5"></div>
<div class="abs" style="left:0;top:239.52px;width:746px;height:19.92px;background:#f5f5f5"></div>
<div class="abs" style="left:0;top:19.8px;width:747px;height:1px;background:#cbcbcb"></div>
</div>
<div class="abs" style="left:821px;top:299px;width:747px;height:271px;overflow:hidden"><div class="abs" style="left:-821px;top:-299px;width:1613px;height:929px">
<div class="t med" style="left:827.60px;top:303.82px;font-size:12.50px;color:#333;">Estado</div>
<div class="t med" style="left:1132.22px;top:303.82px;font-size:12.50px;color:#333;">Prom. Entrega (Dias)</div>
<div class="t med" style="left:1425.95px;top:303.82px;font-size:12.50px;color:#333;">Participación de la venta</div>
<div class="t med2" style="left:827.60px;top:323.99px;font-size:12.30px;color:#333;">Estado De México</div>
<div class="t" style="left:1232.22px;top:323.42px;font-size:12.50px;color:#555;">0.4</div>
<div class="t" style="left:1526.76px;top:323.42px;font-size:12.50px;color:#555;">12.2%</div>
<div class="t med2" style="left:827.60px;top:343.91px;font-size:12.30px;color:#333;">Distrito Federal</div>
<div class="t" style="left:1232.22px;top:343.34px;font-size:12.50px;color:#555;">0.4</div>
<div class="t" style="left:1533.70px;top:343.34px;font-size:12.50px;color:#555;">9.9%</div>
<div class="t med2" style="left:827.60px;top:363.83px;font-size:12.30px;color:#333;">Jalisco</div>
<div class="t" style="left:1232.22px;top:363.26px;font-size:12.50px;color:#555;">0.9</div>
<div class="t" style="left:1533.70px;top:363.26px;font-size:12.50px;color:#555;">8.1%</div>
<div class="t med2" style="left:827.60px;top:383.75px;font-size:12.30px;color:#333;">Veracruz</div>
<div class="t" style="left:1232.22px;top:383.18px;font-size:12.50px;color:#555;">1.5</div>
<div class="t" style="left:1533.70px;top:383.18px;font-size:12.50px;color:#555;">7.1%</div>
<div class="t med2" style="left:827.60px;top:403.67px;font-size:12.30px;color:#333;">Guanajuato</div>
<div class="t" style="left:1232.22px;top:403.10px;font-size:12.50px;color:#555;">0.4</div>
<div class="t" style="left:1533.70px;top:403.10px;font-size:12.50px;color:#555;">5.2%</div>
<div class="t med2" style="left:827.60px;top:423.59px;font-size:12.30px;color:#333;">Nuevo León</div>
<div class="t" style="left:1232.22px;top:423.02px;font-size:12.50px;color:#555;">0.9</div>
<div class="t" style="left:1533.70px;top:423.02px;font-size:12.50px;color:#555;">5.4%</div>
<div class="t med2" style="left:827.60px;top:443.51px;font-size:12.30px;color:#333;">Michoacán</div>
<div class="t" style="left:1232.22px;top:442.94px;font-size:12.50px;color:#555;">1.5</div>
<div class="t" style="left:1533.70px;top:442.94px;font-size:12.50px;color:#555;">4.3%</div>
<div class="t med2" style="left:827.60px;top:463.43px;font-size:12.30px;color:#333;">Puebla</div>
<div class="t" style="left:1232.22px;top:462.86px;font-size:12.50px;color:#555;">1.0</div>
<div class="t" style="left:1533.70px;top:462.86px;font-size:12.50px;color:#555;">4.5%</div>
<div class="t med2" style="left:827.60px;top:483.35px;font-size:12.30px;color:#333;">Hidalgo</div>
<div class="t" style="left:1232.22px;top:482.78px;font-size:12.50px;color:#555;">0.6</div>
<div class="t" style="left:1533.70px;top:482.78px;font-size:12.50px;color:#555;">2.8%</div>
<div class="t med2" style="left:827.60px;top:503.27px;font-size:12.30px;color:#333;">Chihuahua</div>
<div class="t" style="left:1232.22px;top:502.70px;font-size:12.50px;color:#555;">2.3</div>
<div class="t" style="left:1533.70px;top:502.70px;font-size:12.50px;color:#555;">4.8%</div>
<div class="t med2" style="left:827.60px;top:523.19px;font-size:12.30px;color:#333;">Tamaulipas</div>
<div class="t" style="left:1232.22px;top:522.62px;font-size:12.50px;color:#555;">1.3</div>
<div class="t" style="left:1533.70px;top:522.62px;font-size:12.50px;color:#555;">2.6%</div>
<div class="t med2" style="left:827.60px;top:543.11px;font-size:12.30px;color:#333;">Coahuila</div>
<div class="t" style="left:1232.22px;top:542.54px;font-size:12.50px;color:#555;">1.5</div>
<div class="t" style="left:1533.70px;top:542.54px;font-size:12.50px;color:#555;">5.2%</div>
<div class="t med2" style="left:827.60px;top:563.03px;font-size:12.30px;color:#333;">Querétaro</div>
<div class="t" style="left:1232.22px;top:562.46px;font-size:12.50px;color:#555;">0.7</div>
<div class="t" style="left:1533.70px;top:562.46px;font-size:12.50px;color:#555;">3.4%</div>
</div></div>
<div class="abs" style="left:821px;top:568px;width:120px;height:2px;background:#c9cdd2"></div>
<div class="abs" style="left:1568.5px;top:319px;width:16px;height:251px;background:#fafafa"></div>
<div class="abs" style="left:1574.2px;top:322px;width:8px;height:93px;border-radius:4px;background:#808080"></div>
<div class="w" style="left:17px;top:603px;width:772px;height:307px"></div>
<div class="w" style="left:821px;top:607px;width:398px;height:299px"></div>
<div class="w" style="left:1227px;top:607px;width:358px;height:146px"></div>
<div class="w" style="left:1227px;top:761px;width:358px;height:145px"></div>
<div class="stripe" style="left:962px;top:627px;width:257px;height:227px"></div>
<div class="stripe" style="left:1307px;top:627px;width:278px;height:72px"></div>
<div class="stripe" style="left:1327px;top:782px;width:258px;height:69px"></div>
<svg width="1613" height="929" viewBox="0 0 1613 929">
<g stroke="#ececec" stroke-width="1" fill="none">
<path d="M57.5 183V225M57.5 195.5H509M57.5 210.5H509"/>
<path d="M577.5 183V225M577.5 195.5H1029"/>
</g>
<g fill="none" stroke="#999" stroke-width="2.2" stroke-dasharray="10.5 2.8">
<path d="M64 201.3L502.5 208.9"/><path d="M584 198.5L1022.5 209.5"/></g>
<g fill="none" stroke="#4573a7" stroke-width="3" stroke-linejoin="round" stroke-linecap="round"><polyline points="64.1,205.2 79.8,206.5 93.6,202.1 108.8,217.1 122.9,210.3 137.8,208.0 152.7,202.5 167.1,191.4 181.7,200.3 195.8,205.8 210.0,205.8 224.9,207.3 239.5,204.4 253.9,202.8 268.7,200.3 283.6,191.4 298.2,194.3 312.7,193.2 327.3,202.5 341.8,186.9 356.6,202.1 370.8,208.9 385.7,214.9 399.8,217.4 414.7,210.4 428.8,212.5 443.7,218.2 458.6,210.0 472.7,210.0 487.6,206.0 502.5,221.1"/><polyline points="584.1,204.0 599.5,206.5 613.6,194.6 628.8,217.1 642.9,210.3 657.8,205.5 672.7,201.5 687.1,187.2 701.7,196.6 715.8,204.5 730.0,201.8 744.9,204.0 759.7,206.5 774.6,201.8 788.8,199.6 803.6,191.1 818.2,193.6 832.7,192.1 847.3,203.3 861.8,186.9 876.6,203.6 890.8,210.7 905.7,214.4 919.8,214.7 934.7,212.2 948.8,212.2 963.7,217.9 978.6,212.2 992.7,210.4 1007.6,202.2 1022.5,222.2"/></g>
<g stroke="#ececec" stroke-width="1" fill="none">
<path d="M72 824.5H789"/>
<path d="M72 759.5H789"/>
<path d="M72 694.5H789"/>
<path d="M72 629.5H789"/>
<path d="M76.5 626V893M72 889.5H789"/>
<path d="M155.5 889.5V893"/>
<path d="M234.7 889.5V893"/>
<path d="M313.9 889.5V893"/>
<path d="M393.1 889.5V893"/>
<path d="M472.3 889.5V893"/>
<path d="M551.5 889.5V893"/>
<path d="M630.7 889.5V893"/>
<path d="M709.9 889.5V893"/>
</g>
<polyline fill="none" stroke="#5ec8ea" stroke-width="3" stroke-linejoin="round" points="115.9,774.0 195.1,685.2 274.3,751.8 353.5,755.4 432.7,802.0"/>
<polyline fill="none" stroke="#2b95e6" stroke-width="3" stroke-linejoin="round" points="432.7,811.2 511.9,720.1 591.1,637.8 670.3,722.8 749.5,853.0"/>
<circle cx="115.9" cy="774.0" r="3.1" fill="#5ec8ea"/>
<circle cx="195.1" cy="685.2" r="3.1" fill="#5ec8ea"/>
<circle cx="274.3" cy="751.8" r="3.1" fill="#5ec8ea"/>
<circle cx="353.5" cy="755.4" r="3.1" fill="#5ec8ea"/>
<circle cx="432.7" cy="802.0" r="3.1" fill="#5ec8ea"/>
<circle cx="432.7" cy="811.2" r="3.1" fill="#2b95e6"/>
<circle cx="511.9" cy="720.1" r="3.1" fill="#2b95e6"/>
<circle cx="591.1" cy="637.8" r="3.1" fill="#2b95e6"/>
<circle cx="670.3" cy="722.8" r="3.1" fill="#2b95e6"/>
<circle cx="749.5" cy="853.0" r="3.1" fill="#2b95e6"/>
<rect x="185" y="628" width="14" height="14" fill="#66cdee"/><rect x="305" y="628" width="14" height="14" fill="#2e96e8"/>
<rect x="962" y="633" width="175" height="64" fill="#4e79a7"/>
<rect x="962" y="708" width="34" height="64" fill="#4e79a7"/>
<rect x="962" y="783" width="12.3" height="64" fill="#4e79a7"/>
<rect x="1308" y="636" width="187.7" height="53" fill="#4e79a7"/>
<rect x="1328" y="785" width="168.8" height="28" fill="#7094bd"/>
<rect x="1328" y="819" width="1.5" height="28" fill="#7094bd"/>
</svg>
<div class="t med" style="left:397.73px;top:608.02px;font-size:12.50px;color:#333;">Fecha Venta</div>
<div class="t" style="left:204.30px;top:629.73px;font-size:12.25px;color:#555;">November</div>
<div class="t" style="left:324.40px;top:629.73px;font-size:12.25px;color:#555;">December</div>
<div class="t" style="left:47.23px;top:626.70px;font-size:12.40px;color:#777;">20K</div>
<div class="t" style="left:47.23px;top:688.80px;font-size:12.40px;color:#777;">15K</div>
<div class="t" style="left:47.23px;top:753.80px;font-size:12.40px;color:#777;">10K</div>
<div class="t" style="left:54.11px;top:818.80px;font-size:12.40px;color:#777;">5K</div>
<div class="t" style="left:54.11px;top:874.70px;font-size:12.40px;color:#777;">0K</div>
<div class="t" style="left:91.13px;top:895.37px;font-size:12.20px;color:#777;">Week 45</div>
<div class="t" style="left:170.33px;top:895.37px;font-size:12.20px;color:#777;">Week 46</div>
<div class="t" style="left:249.53px;top:895.37px;font-size:12.20px;color:#777;">Week 47</div>
<div class="t" style="left:328.73px;top:895.37px;font-size:12.20px;color:#777;">Week 48</div>
<div class="t" style="left:407.93px;top:895.37px;font-size:12.20px;color:#777;">Week 49</div>
<div class="t" style="left:487.13px;top:895.37px;font-size:12.20px;color:#777;">Week 50</div>
<div class="t" style="left:566.33px;top:895.37px;font-size:12.20px;color:#777;">Week 51</div>
<div class="t" style="left:645.53px;top:895.37px;font-size:12.20px;color:#777;">Week 52</div>
<div class="t" style="left:724.73px;top:895.37px;font-size:12.20px;color:#777;">Week 53</div>
<div class="t" style="left:-17px;top:748.4px;width:100px;text-align:center;font-size:13.2px;color:#333;transform:rotate(-90deg);transform-origin:center">Metrica</div>
<div class="t" style="left:76.59px;top:779.85px;font-size:12.70px;color:#222;">$8,881.62</div>
<div class="t" style="left:162.89px;top:666.85px;font-size:12.70px;color:#222;">$15,717.11</div>
<div class="t" style="left:242.52px;top:757.45px;font-size:12.70px;color:#222;">$10,593.62</div>
<div class="t" style="left:325.24px;top:736.85px;font-size:12.70px;color:#222;">$10,315.5</div>
<div class="t" style="left:371.39px;top:795.45px;font-size:12.70px;color:#222;">$6,728.46</div>
<div class="t" style="left:375.69px;top:817.85px;font-size:12.70px;color:#222;">$6,021.01</div>
<div class="t" style="left:447.22px;top:701.35px;font-size:12.70px;color:#222;">$13,030.45</div>
<div class="t" style="left:559.32px;top:627.75px;font-size:12.70px;color:#222;">$19,363.87</div>
<div class="t" style="left:670.32px;top:704.15px;font-size:12.70px;color:#222;">$12,822.66</div>
<div class="t" style="left:731.24px;top:859.05px;font-size:12.70px;color:#222;">$2,806.69</div>
<div class="t med" style="left:862.60px;top:613.02px;font-size:12.50px;color:#333;">Productos</div>
<div class="t med" style="left:1243.40px;top:613.02px;font-size:12.50px;color:#333;">Publicidad</div>
<div class="t med" style="left:1239.20px;top:767.92px;font-size:12.50px;color:#333;">Canal de venta</div>
<div class="t" style="left:844.99px;top:659.43px;font-size:12.25px;color:#777;">Álbumes y Carpetas</div>
<div class="t" style="left:838.19px;top:735.43px;font-size:12.25px;color:#777;">Insumos y Protección</div>
<div class="t" style="left:844.31px;top:810.43px;font-size:12.25px;color:#777;">Piezas de Colección</div>
<div class="t" style="left:1141.60px;top:658.95px;font-size:12.70px;color:#222;">$83,650.35</div>
<div class="t" style="left:1000.50px;top:734.15px;font-size:12.70px;color:#222;">$16,664.98</div>
<div class="t" style="left:978.40px;top:809.15px;font-size:12.70px;color:#222;">$5,965.66</div>
<div class="t" style="left:1285.72px;top:656.63px;font-size:12.25px;color:#777;">No</div>
<div class="t" style="left:1500.40px;top:656.85px;font-size:12.70px;color:#222;">$106,280.99</div>
<div class="t" style="left:1242.62px;top:794.23px;font-size:12.25px;color:#777;">Mercado Libre</div>
<div class="t" style="left:1235.09px;top:828.03px;font-size:12.25px;color:#777;">Mercado Shops</div>
<div class="t" style="left:1501.10px;top:793.25px;font-size:12.70px;color:#222;">$105,339.31</div>
<div class="t" style="left:1333.30px;top:826.65px;font-size:12.70px;color:#222;">$941.68</div>
<div class="t med" style="left:1056.59px;top:884.63px;font-size:12.60px;color:#333;">Total (MXN)</div>
<div class="t med" style="left:1412.34px;top:731.83px;font-size:12.60px;color:#333;">Total (MXN)</div>
<div class="t med" style="left:1422.34px;top:884.63px;font-size:12.60px;color:#333;">Total (MXN)</div>
</div></body></html>
